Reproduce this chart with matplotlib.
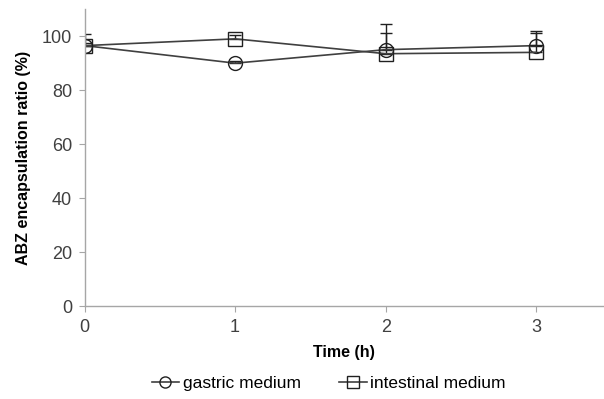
import matplotlib
matplotlib.use('Agg')
import matplotlib.pyplot as plt
from matplotlib.lines import Line2D

# values
time_h = [0, 1, 2, 3]
gastric = [96.5, 90.0, 95.0, 96.5]
gastric_err = [0.8, 0.7, 9.6, 5.5]
intestinal = [96.5, 99.0, 93.5, 94.0]
intestinal_err = [4.2, 1.4, 7.5, 7.2]
y_ticks = [0, 20, 40, 60, 80, 100]
x_ticks = [0, 1, 2, 3]

plt.rcParams['font.family'] = ['Liberation Sans', 'DejaVu Sans']

fig = plt.figure(figsize=(6.04, 3.99), dpi=100)
ax = fig.add_axes([0.140, 0.233, 0.860, 0.744])

line_col = '#404040'
# only the upper error bar is shown in the reference
ax.errorbar(time_h, gastric, yerr=[[0] * 4, gastric_err], color=line_col, lw=1.2,
            marker='o', ms=10, mfc='none', mec='#202020', mew=1.0,
            ecolor='#202020', elinewidth=1.0, capsize=4, capthick=1.0)
ax.errorbar(time_h, intestinal, yerr=[[0] * 4, intestinal_err], color=line_col, lw=1.2,
            marker='s', ms=10, mfc='none', mec='#202020', mew=1.0,
            ecolor='#202020', elinewidth=1.0, capsize=4, capthick=1.0)

ax.set_xlim(0, 3.45)
ax.set_ylim(0, 110)
ax.set_xticks(x_ticks)
ax.set_yticks(y_ticks)
for s in ['top', 'right']:
    ax.spines[s].set_visible(False)
for s in ['left', 'bottom']:
    ax.spines[s].set_color('#a6a6a6')
    ax.spines[s].set_linewidth(1.0)
ax.tick_params(colors='#a6a6a6', labelcolor='#404040', labelsize=13,
               length=4, direction='out', pad=5)

ax.set_xlabel('Time (h)', fontsize=11.5, fontweight='bold', labelpad=7)
ax.set_ylabel('ABZ encapsulation ratio (%)', fontsize=11.5, fontweight='bold', labelpad=8)

handles = [
    Line2D([], [], color=line_col, lw=1.2, marker='o', ms=8, mfc='none', mec='#202020'),
    Line2D([], [], color=line_col, lw=1.2, marker='s', ms=8, mfc='none', mec='#202020'),
]
ax.legend(handles, ['gastric medium', 'intestinal medium'], loc='center',
          bbox_to_anchor=(0.47, -0.26), ncol=2, frameon=False,
          fontsize=12.5, handlelength=1.6, handletextpad=0.2, columnspacing=2.2)

fig.savefig('out.png', dpi=100)
